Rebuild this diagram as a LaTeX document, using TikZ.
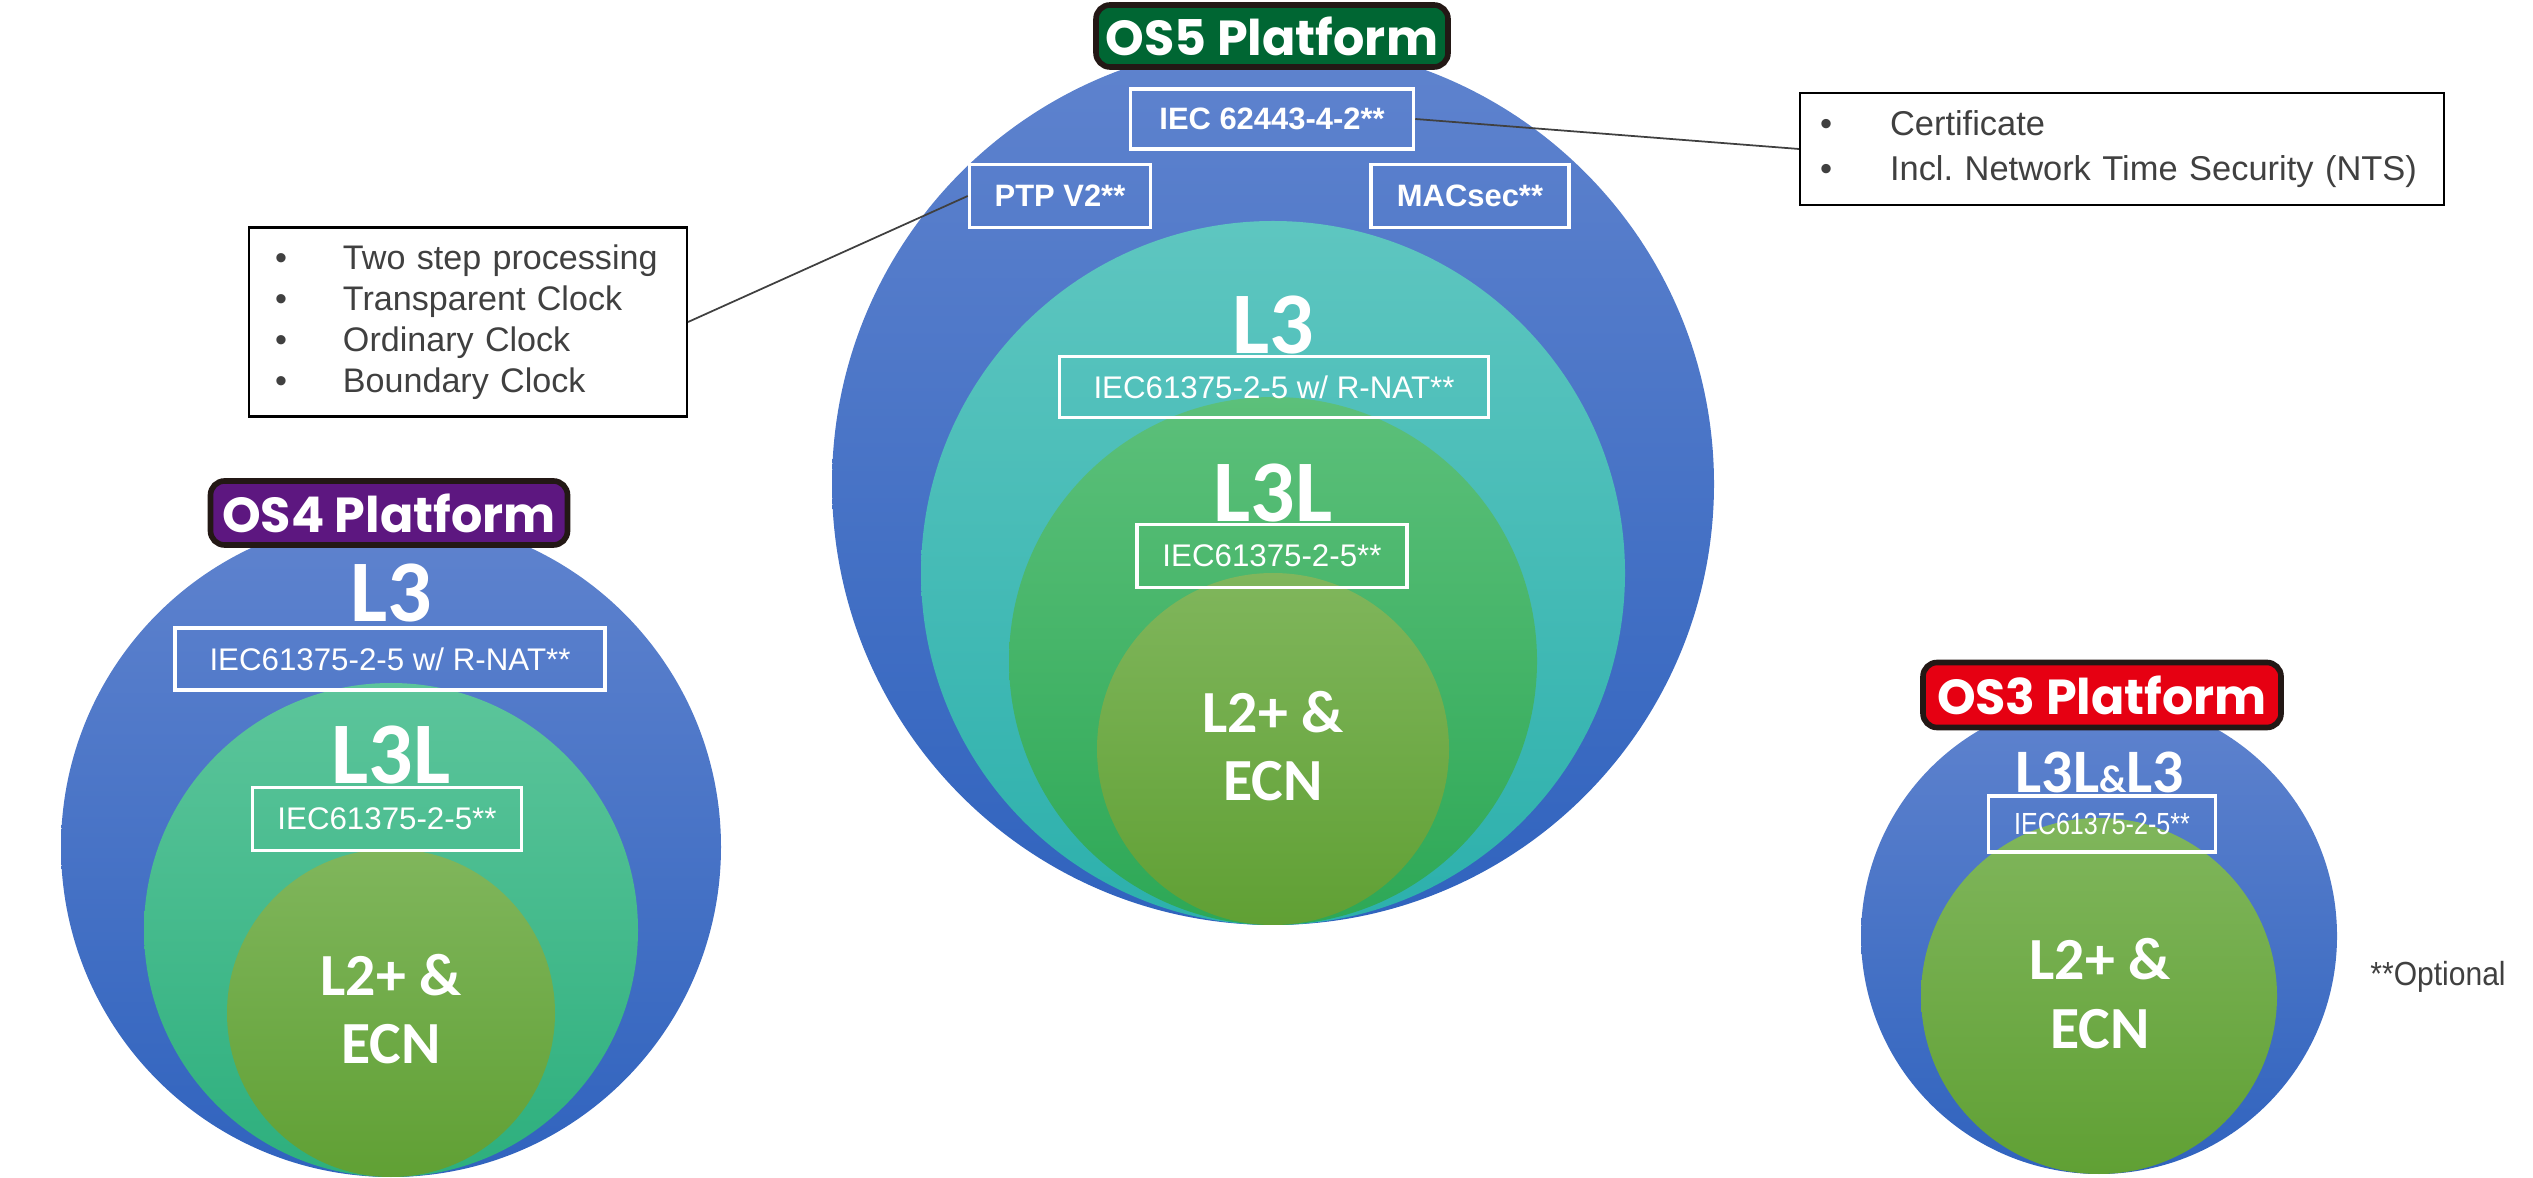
\documentclass[tikz,border=0pt]{standalone}
\usepackage{fontspec}
\setmainfont{Liberation Sans}
\newfontfamily\platfont{Poppins}
\newfontfamily\calfont{Carlito}
\newfontfamily\narrowfont{Liberation Sans}[FakeStretch=0.82]
\newfontfamily\optfont{Liberation Sans}[FakeStretch=0.9]
\usetikzlibrary{positioning}
\definecolor{blueTop}{RGB}{95,131,206}
\definecolor{blueBot}{RGB}{48,99,190}
\definecolor{tealTop}{RGB}{94,198,192}
\definecolor{tealBot}{RGB}{44,176,172}
\definecolor{greenTop}{RGB}{92,192,122}
\definecolor{greenBot}{RGB}{45,168,86}
\definecolor{mintTop}{RGB}{92,197,155}
\definecolor{mintBot}{RGB}{45,175,125}
\definecolor{oliveTop}{RGB}{128,182,92}
\definecolor{oliveBot}{RGB}{96,160,52}
\definecolor{os5green}{RGB}{0,102,51}
\definecolor{os4purple}{RGB}{93,23,128}
\definecolor{os3red}{RGB}{230,0,18}
\definecolor{rim}{RGB}{35,24,21}
\definecolor{ink}{RGB}{64,64,64}

\begin{document}
\begin{tikzpicture}[
    x=0.1mm, y=-0.1mm,
    disc/.style={circle, inner sep=0pt, outer sep=0pt},
    blue/.style={top color=blueTop, bottom color=blueBot},
    teal/.style={top color=tealTop, bottom color=tealBot},
    green/.style={top color=greenTop, bottom color=greenBot},
    mint/.style={top color=mintTop, bottom color=mintBot},
    olive/.style={top color=oliveTop, bottom color=oliveBot},
    platform/.style={draw=rim, line width=1.6pt, rounded corners=4pt, text=white, inner sep=0pt,
        font=\platfont\bfseries\fontsize{14}{16}\selectfont},
    layer/.style={text=white, anchor=base, inner sep=0pt, font=\calfont\bfseries\fontsize{25}{30}\selectfont},
    core/.style={text=white, anchor=base, align=center, inner sep=0pt, font=\calfont\bfseries\fontsize{17}{19.5}\selectfont},
    std/.style={draw=white, line width=1pt, text=white, inner sep=0pt, font=\fontsize{8.9}{11}\selectfont},
    feature/.style={std, font=\bfseries\fontsize{8.8}{11}\selectfont},
    note/.style={draw=black, line width=0.6pt, text=ink, align=left, inner ysep=0pt},
    leader/.style={draw=ink, line width=0.5pt}
]
    \useasboundingbox (0,0) rectangle (2533,1178);

    % OS5 platform
    \node[disc, blue, minimum size=88.2mm] (os5) at (1273,484) {};
    \node[disc, teal, minimum size=70.4mm] (os5l3) at (1273,573) {};
    \node[disc, green, minimum size=52.8mm] (os5l3l) at (1273,661) {};
    \node[disc, olive, minimum size=35.2mm] (os5core) at (1273,749) {};

    \node[platform, fill=os5green, minimum width=35.2mm, minimum height=6.2mm] (os5tag) at (1272,36) {OS5 Platform};
    \node[feature, minimum width=28.3mm, minimum height=6mm] (iec62443) at (1272,119) {IEC 62443-4-2**};
    \node[feature, minimum width=18.1mm, minimum height=6.3mm] (ptp) at (1060,196) {PTP V2**};
    \node[feature, minimum width=19.8mm, minimum height=6.3mm] (macsec) at (1470,196) {MACsec**};
    \node[layer] (os5l3txt) at (1273,354) {L3};
    \node[std, minimum width=42.9mm, minimum height=6.1mm] (os5nat) at (1274,387) {IEC61375-2-5 w/ R-NAT**};
    \node[layer] (os5l3ltxt) at (1273,522) {L3L};
    \node[std, minimum width=27mm, minimum height=6.3mm] (os5iec) at (1272,556) {IEC61375-2-5**};
    \node[core] (os5coretxt) at (1273,801) {L2+ \&\\ECN};

    % OS4 platform
    \node[disc, blue, minimum size=66mm] (os4) at (391,847) {};
    \node[disc, mint, minimum size=49.4mm] (os4l3l) at (391,930) {};
    \node[disc, olive, minimum size=32.8mm] (os4core) at (391,1013) {};

    \node[platform, fill=os4purple, minimum width=35.7mm, minimum height=6.4mm] (os4tag) at (389,513) {OS4 Platform};
    \node[layer] (os4l3txt) at (391,622) {L3};
    \node[std, minimum width=43mm, minimum height=6.2mm] (os4nat) at (390,659) {IEC61375-2-5 w/ R-NAT**};
    \node[layer] (os4l3ltxt) at (391,784) {L3L};
    \node[std, minimum width=26.9mm, minimum height=6.3mm] (os4iec) at (387,819) {IEC61375-2-5**};
    \node[core] (os4coretxt) at (391,1064) {L2+ \&\\ECN};

    % OS3 platform
    \node[disc, blue, minimum size=47.6mm] (os3) at (2099,936) {};
    \node[disc, olive, minimum size=35.6mm] (os3core) at (2099,996) {};

    \node[platform, fill=os3red, minimum width=35.8mm, minimum height=6.5mm] (os3tag) at (2102,695) {OS3 Platform};
    \node[layer, font=\calfont\bfseries\fontsize{17.6}{20}\selectfont] (os3l3txt) at (2100,793) {L3L{\fontsize{11}{12}\selectfont\&}L3};
    \node[std, font=\narrowfont\fontsize{8.7}{10}\selectfont, minimum width=22.7mm, minimum height=5.6mm] (os3iec) at (2102,824) {IEC61375-2-5**};
    \node[core] (os3coretxt) at (2100,1048) {L2+ \&\\ECN};

    % callouts
    \node[note, minimum width=43.8mm, minimum height=18.9mm, text width=38.6mm, inner xsep=2.6mm,
        font=\fontsize{9.7}{11.7}\selectfont] (clocks) at (468,322)
        {\makebox[6.8mm][l]{\textbullet}Two step processing\\
         \makebox[6.8mm][l]{\textbullet}Transparent Clock\\
         \makebox[6.8mm][l]{\textbullet}Ordinary Clock\\
         \makebox[6.8mm][l]{\textbullet}Boundary Clock};
    \node[note, minimum width=64.4mm, minimum height=11.2mm, text width=60.4mm, inner xsep=2mm,
        font=\fontsize{9.8}{12.8}\selectfont] (nts) at (2122,149)
        {\makebox[7mm][l]{\textbullet}Certificate\\
         \makebox[7mm][l]{\textbullet}Incl.\ Network Time Security (NTS)};

    \draw[leader] (iec62443.east) -- (nts.west);
    \draw[leader] (ptp.west) -- (clocks.east);

    \node[text=ink, font=\optfont\fontsize{9.5}{11}\selectfont] (optional) at (2438,977) {**Optional};
\end{tikzpicture}
\end{document}
